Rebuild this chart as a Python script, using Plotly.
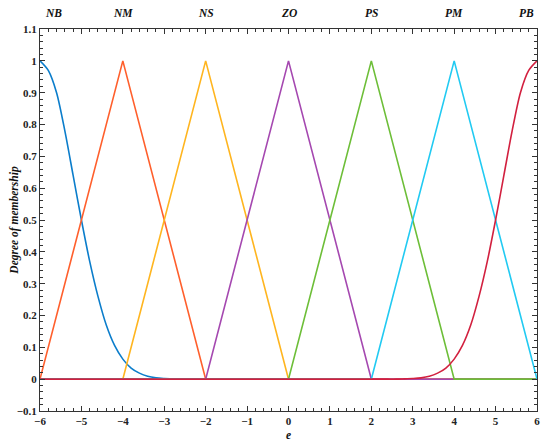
import plotly.graph_objects as go

# x positions shared by the two shoulder curves
e_vals = [-6, -5.8, -5.6, -5.4, -5.2, -5, -4.8, -4.6, -4.4, -4.2, -4, -3.8, -3.6, -3.4, -3.2, -3,
          -2.8, -2.6, -2.4, -2.2, -2, -1, 0, 1, 2, 2.2, 2.4, 2.6, 2.8, 3, 3.2, 3.4, 3.6, 3.8, 4,
          4.2, 4.4, 4.6, 4.8, 5, 5.2, 5.4, 5.6, 5.8, 6]

# values
nb = [1, 0.97, 0.9, 0.78, 0.64, 0.5, 0.37, 0.26, 0.17, 0.106, 0.063, 0.035, 0.019, 0.009, 0.004, 0.002,
      0.001, 0, 0, 0, 0, 0, 0, 0, 0, 0, 0, 0, 0, 0, 0, 0, 0, 0, 0,
      0, 0, 0, 0, 0, 0, 0, 0, 0, 0]
pb = list(reversed(nb))

# triangles: (left foot, peak, right foot)
tri_names = ["NM", "NS", "ZO", "PS", "PM"]
tri_params = [(-6, -4, -2), (-4, -2, 0), (-2, 0, 2), (0, 2, 4), (2, 4, 6)]

colors = {"NB": "#0B7DCB", "NM": "#FF5F2C", "NS": "#FFB51F", "ZO": "#A548B0",
          "PS": "#6DBE38", "PM": "#21CAF2", "PB": "#D2203F"}

label_names = ["NB", "NM", "NS", "ZO", "PS", "PM", "PB"]
label_pos = [-6, -4, -2, 0, 2, 4, 6]


def triangle(a, b, c):
    xs = [-6, a, b, c, 6]
    ys = [0, 0, 1, 0, 0]
    return xs, ys


fig = go.Figure()
fig.add_trace(go.Scatter(x=e_vals, y=nb, mode="lines",
                         line=dict(color=colors["NB"], width=1.6, shape="spline", smoothing=0.8)))
for name, (a, b, c) in zip(tri_names, tri_params):
    xs, ys = triangle(a, b, c)
    fig.add_trace(go.Scatter(x=xs, y=ys, mode="lines", line=dict(color=colors[name], width=1.6)))
fig.add_trace(go.Scatter(x=e_vals, y=pb, mode="lines",
                         line=dict(color=colors["PB"], width=1.6, shape="spline", smoothing=0.8)))

tick_font = dict(family="Liberation Serif", size=11, color="#222", weight="bold")
title_font = dict(family="Liberation Serif", size=11.5, color="#111", weight="bold")

for name, pos in zip(label_names, label_pos):
    anchor = "center"
    shift = 0
    if pos == -6:
        anchor, shift = "left", 3
    elif pos == 6:
        anchor, shift = "right", -1
    fig.add_annotation(x=pos, y=1, xref="x", yref="paper", yanchor="bottom", yshift=8,
                       xanchor=anchor, xshift=shift,
                       text="<i>" + name + "</i>", showarrow=False, font=title_font)

axis_common = dict(
    showline=True, linecolor="#333", linewidth=1.2, mirror="allticks",
    ticks="inside", ticklen=5, tickwidth=1, tickcolor="#333",
    showgrid=False, zeroline=False, tickfont=tick_font, automargin=False,
)

fig.update_xaxes(range=[-6, 6], dtick=1, tick0=-6,
                 minor=dict(dtick=0.2, ticks="inside", ticklen=3, tickcolor="#333", showgrid=False),
                 title=dict(text="<i>e</i>", font=title_font, standoff=4),
                 **axis_common)
fig.update_yaxes(range=[-0.1, 1.1], dtick=0.1, tick0=0,
                 minor=dict(dtick=0.02, ticks="inside", ticklen=3, tickcolor="#333", showgrid=False),
                 title=dict(text="<i>Degree of membership</i>", font=title_font, standoff=6),
                 **axis_common)

# page body adds an 8px offset, so the figure is a little smaller than the window
fig.update_layout(
    width=542, height=439,
    margin=dict(l=32, r=13, t=21, b=36),
    paper_bgcolor="white", plot_bgcolor="white",
    showlegend=False,
)

fig.write_html("out.html")
